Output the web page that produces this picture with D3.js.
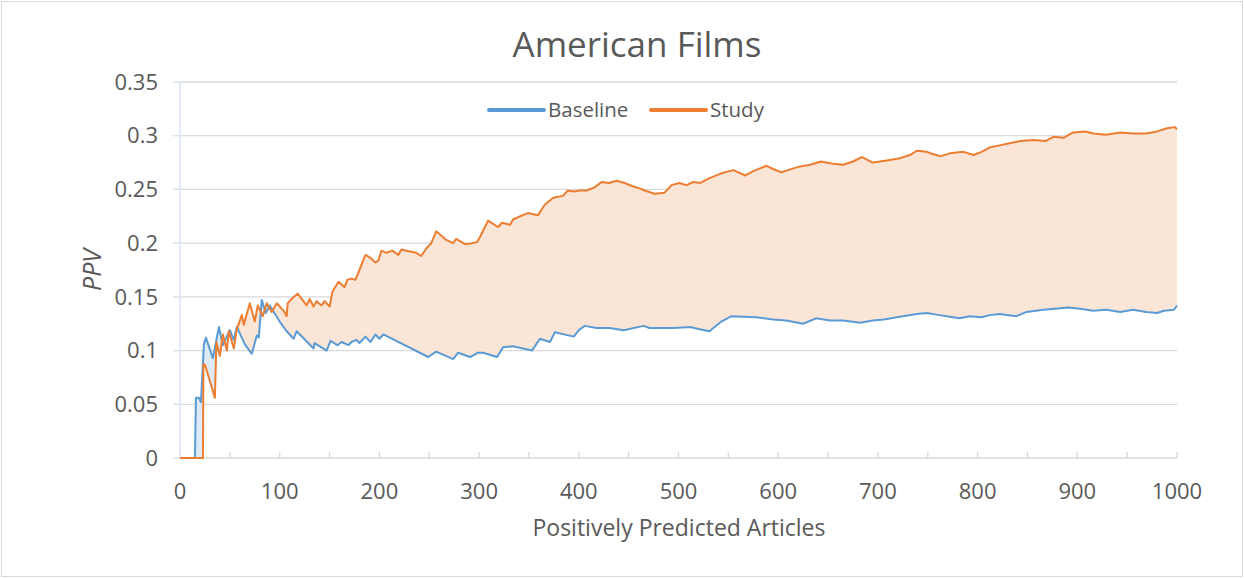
<!DOCTYPE html>
<html>
<head>
<meta charset="utf-8">
<script src="https://cdn.jsdelivr.net/npm/d3@7"></script>
<style>
  body { margin: 0; background: #fff; }
  svg { display: block; font-family: "Open Sans", sans-serif; }
</style>
</head>
<body>
<script>
// chart data
var title = 'American Films'
var xLabel = 'Positively Predicted Articles'
var yLabel = 'PPV'
var seriesNames = ['Baseline', 'Study']
var xTicks = [0, 100, 200, 300, 400, 500, 600, 700, 800, 900, 1000]
var yTicks = [0, 0.05, 0.1, 0.15, 0.2, 0.25, 0.3, 0.35]

var baselineX = [0, 15, 16, 19, 21, 24, 26, 33, 39, 43, 50, 54, 57, 65, 72, 77, 79, 82, 86, 90, 100, 107, 114, 117,
    134, 135, 147, 151, 158, 162, 169, 172, 177, 180, 186, 191, 196, 200, 204, 249, 257, 274, 279, 291, 299, 304,
    318, 324, 334, 353, 361, 371, 376, 395, 400, 406, 418, 431, 445, 465, 471, 495, 512, 520, 531, 543, 553, 578,
    595, 608, 625, 638, 652, 665, 682, 695, 706, 719, 739, 749, 762, 769, 782, 792, 804, 812, 822, 839, 849, 866,
    891, 903, 916, 929, 943, 956, 969, 980, 987, 997, 1000]
var baselineY = [0, 0, 0.056, 0.056, 0.052, 0.106, 0.112, 0.093, 0.122, 0.105, 0.119, 0.11, 0.122, 0.106, 0.097,
    0.114, 0.112, 0.147, 0.135, 0.142, 0.127, 0.118, 0.111, 0.118,
    0.102, 0.107, 0.1, 0.109, 0.105, 0.108, 0.105, 0.108, 0.11, 0.107, 0.113, 0.108, 0.115, 0.111, 0.115, 0.094,
    0.099, 0.092, 0.098, 0.094, 0.098, 0.098,
    0.094, 0.103, 0.104, 0.1, 0.111, 0.108, 0.117, 0.113, 0.119, 0.123, 0.121, 0.121, 0.119, 0.123, 0.121, 0.121,
    0.122, 0.12, 0.118, 0.127, 0.132, 0.131,
    0.129, 0.128, 0.125, 0.13, 0.128, 0.128, 0.126, 0.128, 0.129, 0.131, 0.134, 0.135, 0.133, 0.132, 0.13, 0.132,
    0.131, 0.133, 0.134, 0.132, 0.136, 0.138,
    0.14, 0.139, 0.137, 0.138, 0.136, 0.138, 0.136, 0.135, 0.137, 0.138, 0.142]

var studyX = [0, 23, 23.5, 25, 35, 36.5, 40, 43, 47, 49, 54, 57, 62, 64, 70, 75, 78, 83, 87, 92, 97, 104, 107, 108,
    113, 118, 127, 130, 134, 137, 142, 145, 150, 153, 159, 165, 168, 172, 176, 180, 186, 190, 196, 199, 202, 207,
    213, 219, 222, 227, 232, 237, 242, 247, 252, 257, 267, 274, 277, 286, 293, 298, 301, 309, 319, 323, 331, 334,
    341, 349, 359, 366, 374, 378, 384, 389, 395, 401, 408, 416, 423, 430, 438, 446, 454, 461, 466, 476, 486, 493,
    501, 508, 515, 522, 530, 543, 555, 567, 575, 588, 595, 603, 610, 620, 632, 643, 655, 665, 675, 684, 695, 709,
    722, 732, 739, 749, 755, 763, 774, 786, 796, 804, 812, 822, 832, 843, 856, 868, 876, 886, 896, 908, 916, 929,
    943, 956, 969, 980, 990, 998, 1000]
var studyY = [0, 0, 0.087, 0.087, 0.056, 0.108, 0.095, 0.115, 0.1, 0.118, 0.102, 0.12, 0.133, 0.124, 0.144, 0.127,
    0.142, 0.132, 0.144, 0.136, 0.144, 0.137, 0.132, 0.144,
    0.149, 0.153, 0.142, 0.148, 0.141, 0.146, 0.142, 0.146, 0.141, 0.155, 0.164, 0.159, 0.166, 0.167, 0.166, 0.175,
    0.189, 0.187, 0.182, 0.184, 0.193, 0.191,
    0.193, 0.189, 0.194, 0.193, 0.192, 0.191, 0.188, 0.195, 0.2, 0.211, 0.203, 0.2, 0.204, 0.199, 0.2, 0.201, 0.206,
    0.221, 0.215, 0.219, 0.217, 0.222,
    0.225, 0.228, 0.226, 0.236, 0.242, 0.243, 0.244, 0.249, 0.248, 0.249, 0.249, 0.252, 0.257, 0.256, 0.258, 0.256,
    0.253, 0.251, 0.249, 0.246, 0.247, 0.254,
    0.256, 0.254, 0.257, 0.256, 0.26, 0.265, 0.268, 0.263, 0.267, 0.272, 0.269, 0.266, 0.268, 0.271, 0.273, 0.276,
    0.274, 0.273, 0.276, 0.28, 0.275, 0.277,
    0.279, 0.282, 0.286, 0.285, 0.283, 0.281, 0.284, 0.285, 0.282, 0.285, 0.289, 0.291, 0.293, 0.295, 0.296, 0.295,
    0.299, 0.298, 0.303, 0.304, 0.302, 0.301,
    0.303, 0.302, 0.302, 0.304, 0.307, 0.308, 0.306]

var blue = '#5b9bd5', orange = '#ed7d31'
var textColor = '#595959'
var W = 1244, H = 578

var baseline = baselineX.map(function (x, i) { return [x, baselineY[i]] })
var study = studyX.map(function (x, i) { return [x, studyY[i]] })

var svg = d3.select('body').append('svg')
    .attr('width', W)
    .attr('height', H)

// outer frame
svg.append('rect')
    .attr('x', 1.5).attr('y', 1.5)
    .attr('width', W - 3).attr('height', H - 3)
    .attr('fill', '#fff')
    .attr('stroke', '#d9d9d9')

var x = d3.scaleLinear().domain([0, 1000]).range([180, 1177])
var y = d3.scaleLinear().domain([0, 0.35]).range([458, 82])

// gridlines
svg.append('g')
    .selectAll('line')
    .data(yTicks.slice(1))
    .enter().append('line')
    .attr('x1', x(0)).attr('x2', x(1000))
    .attr('y1', function (d) { return y(d) }).attr('y2', function (d) { return y(d) })
    .attr('stroke', '#d9d9d9').attr('stroke-width', 1.3)

// fills between the two lines
var areaAbove = function (data) {
    return d3.area().x(function (d) { return x(d[0]) }).y0(y.range()[1] - 5).y1(function (d) { return y(d[1]) })(data)
}
var areaBelow = function (data) {
    return d3.area().x(function (d) { return x(d[0]) }).y0(y.range()[0] + 5).y1(function (d) { return y(d[1]) })(data)
}
var defs = svg.append('defs')
defs.append('clipPath').attr('id', 'clipAboveBase').append('path').attr('d', areaAbove(baseline))
defs.append('clipPath').attr('id', 'clipBelowBase').append('path').attr('d', areaBelow(baseline))

// study above baseline -> orange tint
svg.append('path')
    .attr('d', areaBelow(study))
    .attr('clip-path', 'url(#clipAboveBase)')
    .attr('fill', '#fbe5d6')
// baseline above study -> blue tint
svg.append('path')
    .attr('d', areaAbove(study))
    .attr('clip-path', 'url(#clipBelowBase)')
    .attr('fill', '#deebf7')

// x axis line + minor ticks
svg.append('line')
    .attr('x1', x(0)).attr('x2', x(1000))
    .attr('y1', y(0)).attr('y2', y(0))
    .attr('stroke', '#d9d9d9').attr('stroke-width', 1.3)
svg.append('g')
    .selectAll('line')
    .data(d3.range(0, 1001, 50))
    .enter().append('line')
    .attr('x1', function (d) { return x(d) }).attr('x2', function (d) { return x(d) })
    .attr('y1', y(0) - 6).attr('y2', y(0))
    .attr('stroke', '#d9d9d9').attr('stroke-width', 1.3)

// y axis line (light blue) + ticks
svg.append('line')
    .attr('x1', x(0)).attr('x2', x(0))
    .attr('y1', y(0.35)).attr('y2', y(0))
    .attr('stroke', '#dae3f3').attr('stroke-width', 1.5)
svg.append('g')
    .selectAll('line')
    .data(yTicks)
    .enter().append('line')
    .attr('x1', x(0) - 7).attr('x2', x(0))
    .attr('y1', function (d) { return y(d) }).attr('y2', function (d) { return y(d) })
    .attr('stroke', '#dae3f3').attr('stroke-width', 1.5)

// lines
var line = d3.line().x(function (d) { return x(d[0]) }).y(function (d) { return y(d[1]) })
svg.append('path').attr('d', line(baseline))
    .attr('fill', 'none').attr('stroke', blue).attr('stroke-width', 2).attr('stroke-linejoin', 'round')
svg.append('path').attr('d', line(study))
    .attr('fill', 'none').attr('stroke', orange).attr('stroke-width', 2).attr('stroke-linejoin', 'round')

// tick labels
svg.append('g')
    .selectAll('text')
    .data(yTicks)
    .enter().append('text')
    .attr('x', 158)
    .attr('y', function (d) { return y(d) })
    .attr('dy', '0.35em')
    .attr('text-anchor', 'end')
    .attr('font-size', 22)
    .attr('fill', textColor)
    .text(function (d) { return +d.toFixed(2) })

svg.append('g')
    .selectAll('text')
    .data(xTicks)
    .enter().append('text')
    .attr('x', function (d) { return x(d) })
    .attr('y', 491)
    .attr('dy', '0.35em')
    .attr('text-anchor', 'middle')
    .attr('font-size', 22)
    .attr('fill', textColor)
    .text(function (d) { return d })

// titles
svg.append('text')
    .attr('x', 637).attr('y', 45).attr('dy', '0.35em')
    .attr('text-anchor', 'middle')
    .attr('font-size', 35)
    .attr('fill', textColor)
    .text(title)

svg.append('text')
    .attr('x', 679).attr('y', 528).attr('dy', '0.35em')
    .attr('text-anchor', 'middle')
    .attr('font-size', 23)
    .attr('fill', textColor)
    .text(xLabel)

svg.append('text')
    .attr('transform', 'translate(92,270) rotate(-90)')
    .attr('dy', '0.35em')
    .attr('text-anchor', 'middle')
    .attr('font-size', 25)
    .attr('font-style', 'italic')
    .attr('fill', textColor)
    .text(yLabel)

// legend
var legend = svg.append('g')
var legendX = [489, 651]
seriesNames.forEach(function (name, i) {
    legend.append('line')
        .attr('x1', legendX[i]).attr('x2', legendX[i] + 55)
        .attr('y1', 110).attr('y2', 110)
        .attr('stroke', i == 0 ? blue : orange)
        .attr('stroke-width', 4)
        .attr('stroke-linecap', 'round')
    legend.append('text')
        .attr('x', legendX[i] + 59).attr('y', 110).attr('dy', '0.35em')
        .attr('font-size', 20.5)
        .attr('fill', textColor)
        .text(name)
})
</script>
</body>
</html>
